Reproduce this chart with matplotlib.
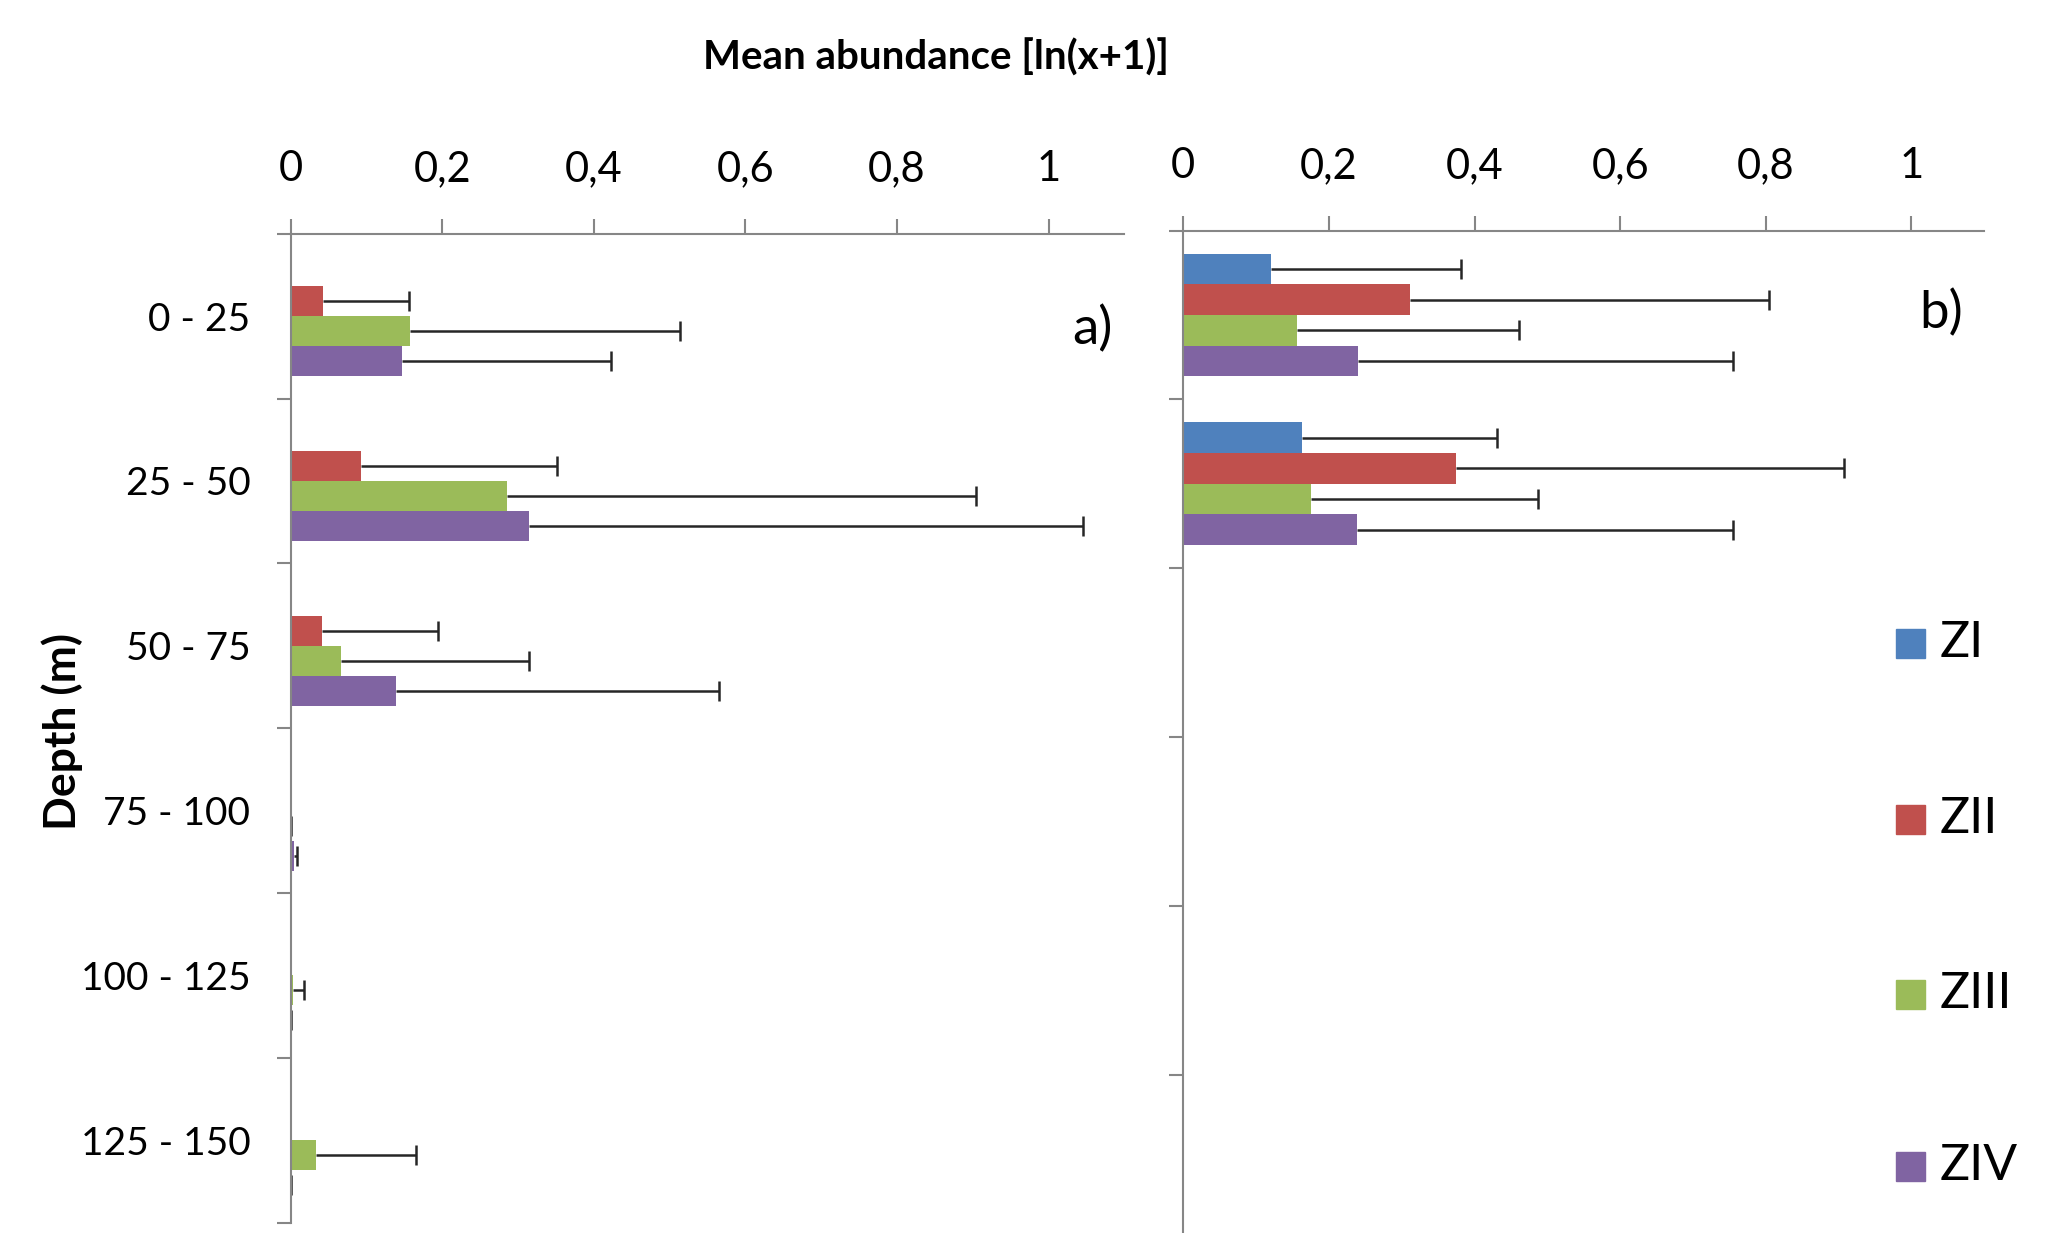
import numpy as np
import matplotlib.pyplot as plt
from matplotlib.patches import Rectangle

plt.rcParams['font.family'] = ['Lato', 'DejaVu Sans']

depths = ['0 - 25', '25 - 50', '50 - 75', '75 - 100', '100 - 125', '125 - 150']
zones = ['ZI', 'ZII', 'ZIII', 'ZIV']
colors = ['#4F81BD', '#C0504D', '#9BBB59', '#8064A2']
xticks = [0, 0.2, 0.4, 0.6, 0.8, 1.0]
xtick_labels = ['0', '0,2', '0,4', '0,6', '0,8', '1']

nan = np.nan
# panel a) means and (plus-only) error lengths
a_zi = [nan, nan, nan, nan, nan, nan]
a_zii = [0.043, 0.093, 0.041, nan, nan, nan]
a_ziii = [0.158, 0.286, 0.066, 0.0, 0.003, 0.034]
a_ziv = [0.147, 0.314, 0.139, 0.004, 0.0, 0.0]
a_zi_err = [nan, nan, nan, nan, nan, nan]
a_zii_err = [0.113, 0.259, 0.153, nan, nan, nan]
a_ziii_err = [0.356, 0.618, 0.249, 0.0, 0.014, 0.131]
a_ziv_err = [0.276, 0.731, 0.426, 0.004, 0.0, 0.0]

# panel b)
b_zi = [0.120, 0.163, nan, nan, nan, nan]
b_zii = [0.311, 0.375, nan, nan, nan, nan]
b_ziii = [0.156, 0.175, nan, nan, nan, nan]
b_ziv = [0.240, 0.238, nan, nan, nan, nan]
b_zi_err = [0.261, 0.268, nan, nan, nan, nan]
b_zii_err = [0.493, 0.533, nan, nan, nan, nan]
b_ziii_err = [0.305, 0.312, nan, nan, nan, nan]
b_ziv_err = [0.515, 0.517, nan, nan, nan, nan]

W, H = 2048, 1233
AXIS_GREY = '#868686'


def px(x0, y_top, x1, y_bottom):
    # pixel box -> figure fraction [left, bottom, width, height]
    return [x0 / W, 1 - y_bottom / H, (x1 - x0) / W, (y_bottom - y_top) / H]


def draw_panel(ax, means, errs, show_labels):
    w = 1 / 5.5  # Excel gap width 150%
    n = len(depths)
    for i, (m, e) in enumerate(zip(means, errs)):
        y = np.arange(n) + 0.5 + (i - 1.5) * w
        ax.barh(y, m, height=w, color=colors[i], linewidth=0)
        eb = ax.errorbar(m, y, xerr=[np.zeros(n), e], fmt='none',
                         ecolor='#262626', elinewidth=1.8, capsize=7, capthick=1.8)
        eb[1][0].set_visible(False)  # plus direction only
        for art in list(eb[1]) + list(eb[2]):
            art.set_clip_on(False)

    ax.set_xlim(0, 1.1)
    ax.set_ylim(n, 0)
    ax.xaxis.tick_top()
    ax.set_xticks(xticks)
    ax.set_xticklabels(xtick_labels)
    ax.set_yticks(np.arange(n + 1))
    ax.set_yticklabels([])
    ax.set_yticks(np.arange(n) + 0.5, minor=True)
    ax.set_yticklabels(depths if show_labels else [], minor=True)
    for s in ['right', 'bottom']:
        ax.spines[s].set_visible(False)
    for s in ['top', 'left']:
        ax.spines[s].set_color(AXIS_GREY)
        ax.spines[s].set_linewidth(1.5)
    ax.tick_params(axis='x', which='major', direction='out', length=10.8, width=1.5,
                   color=AXIS_GREY, labelsize=30, pad=22)
    ax.tick_params(axis='y', which='major', direction='out', length=10, width=1.5,
                   color=AXIS_GREY)
    ax.tick_params(axis='y', which='minor', length=0, labelsize=28, pad=29)


fig = plt.figure(figsize=(W / 100, H / 100), dpi=100)
ax_a = fig.add_axes(px(290.7, 233.7, 1124.3, 1222.7))
ax_b = fig.add_axes(px(1183.3, 230.5, 1984.3, 1243.3))

draw_panel(ax_a, [a_zi, a_zii, a_ziii, a_ziv],
           [a_zi_err, a_zii_err, a_ziii_err, a_ziv_err], True)
draw_panel(ax_b, [b_zi, b_zii, b_ziii, b_ziv],
           [b_zi_err, b_zii_err, b_ziii_err, b_ziv_err], False)

fig.text(936 / W, 1 - 58 / H, 'Mean abundance [ln(x+1)]', ha='center', va='center',
         fontsize=29, fontweight='bold')
fig.text(62 / W, 1 - 731 / H, 'Depth (m)', ha='center', va='center', rotation=90,
         fontsize=32, fontweight='bold')
fig.text(1092 / W, 1 - 329 / H, 'a)', ha='center', va='center', fontsize=38)
fig.text(1941 / W, 1 - 313 / H, 'b)', ha='center', va='center', fontsize=38)

# legend
leg_y = [643, 819, 994, 1166]
for i, z in enumerate(zones):
    fig.patches.append(Rectangle((1896 / W, 1 - (leg_y[i] + 14.5) / H), 29 / W, 29 / H,
                                 transform=fig.transFigure, color=colors[i]))
    fig.text(1940 / W, 1 - leg_y[i] / H, z, ha='left', va='center', fontsize=36)

fig.savefig('out.png', dpi=100)
